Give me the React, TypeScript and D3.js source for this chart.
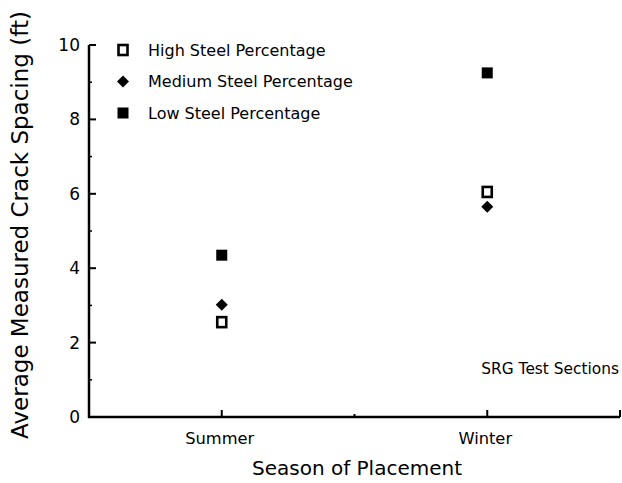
import React from "react";
import * as d3 from "d3";

const categories = ["Summer", "Winter"];
const categoryPos = [1, 3];
const seriesNames = ["High Steel Percentage", "Medium Steel Percentage", "Low Steel Percentage"];
const highValues = [2.55, 6.05];
const mediumValues = [3.02, 5.65];
const lowValues = [4.35, 9.25];
const yTicks = [0, 2, 4, 6, 8, 10];
const yMinor = [1, 3, 5, 7, 9];

const W = 622, H = 483;
const FONT = "'DejaVu Sans', sans-serif";

export default function App() {
  const x = d3.scaleLinear().domain([0, 4]).range([89, 620]);
  const y = d3.scaleLinear().domain([0, 10]).range([417, 45]);

  const marker = (kind: number, cx: number, cy: number, key: string) => {
    if (kind === 0) {
      return <rect key={key} x={cx - 4.5} y={cy - 5} width={9} height={10} fill="white" stroke="black" strokeWidth={2.6} />;
    }
    if (kind === 1) {
      const p = d3.path();
      p.moveTo(cx, cy - 6); p.lineTo(cx + 6, cy); p.lineTo(cx, cy + 6); p.lineTo(cx - 6, cy); p.closePath();
      return <path key={key} d={p.toString()} fill="black" />;
    }
    return <rect key={key} x={cx - 5.5} y={cy - 5.5} width={11} height={11} fill="black" />;
  };

  const series = [highValues, mediumValues, lowValues];

  return (
    <svg width={W} height={H} style={{ position: "absolute", left: 0, top: 0, background: "white" }}>
      <rect width={W} height={H} fill="white" />
      {/* axes */}
      <line x1={x(0)} x2={x(0)} y1={y(10)} y2={y(0) + 1} stroke="black" strokeWidth={2.5} />
      <line x1={x(0) - 1} x2={x(4)} y1={y(0)} y2={y(0)} stroke="black" strokeWidth={2.5} />
      {yTicks.map((t) => (
        <g key={"yt" + t}>
          <line x1={x(0)} x2={x(0) + 7} y1={y(t)} y2={y(t)} stroke="black" strokeWidth={2} />
          <text x={x(0) - 9} y={y(t)} dy="0.35em" textAnchor="end" fontFamily={FONT} fontSize={17}>{t}</text>
        </g>
      ))}
      {yMinor.map((t) => (
        <line key={"ym" + t} x1={x(0)} x2={x(0) + 3} y1={y(t)} y2={y(t)} stroke="black" strokeWidth={1.5} />
      ))}
      {[1, 2, 3, 4].map((t) => (
        <line key={"xt" + t} x1={x(t)} x2={x(t)} y1={y(0)} y2={y(0) - (t === 2 ? 3 : 7)} stroke="black" strokeWidth={2} />
      ))}
      {categories.map((c, i) => (
        <text key={c} x={x(categoryPos[i]) - 2} y={444} textAnchor="middle" fontFamily={FONT} fontSize={16.3}>{c}</text>
      ))}
      <text x={357} y={475} textAnchor="middle" fontFamily={FONT} fontSize={20}>Season of Placement</text>
      <text transform={`translate(28, 225) rotate(-90)`} textAnchor="middle" fontFamily={FONT} fontSize={23}>Average Measured Crack Spacing (ft)</text>
      {/* legend */}
      {seriesNames.map((s, i) => (
        <g key={s}>
          {marker(i, 123, 50 + i * 31.5, "lm" + i)}
          <text x={148} y={50 + i * 31.5} dy="0.35em" fontFamily={FONT} fontSize={16}>{s}</text>
        </g>
      ))}
      <text x={619} y={374} textAnchor="end" fontFamily={FONT} fontSize={15.4}>SRG Test Sections</text>
      {/* data */}
      {series.map((vals, si) =>
        vals.map((v, ci) => marker(si, x(categoryPos[ci]), y(v), `m${si}-${ci}`))
      )}
    </svg>
  );
}
